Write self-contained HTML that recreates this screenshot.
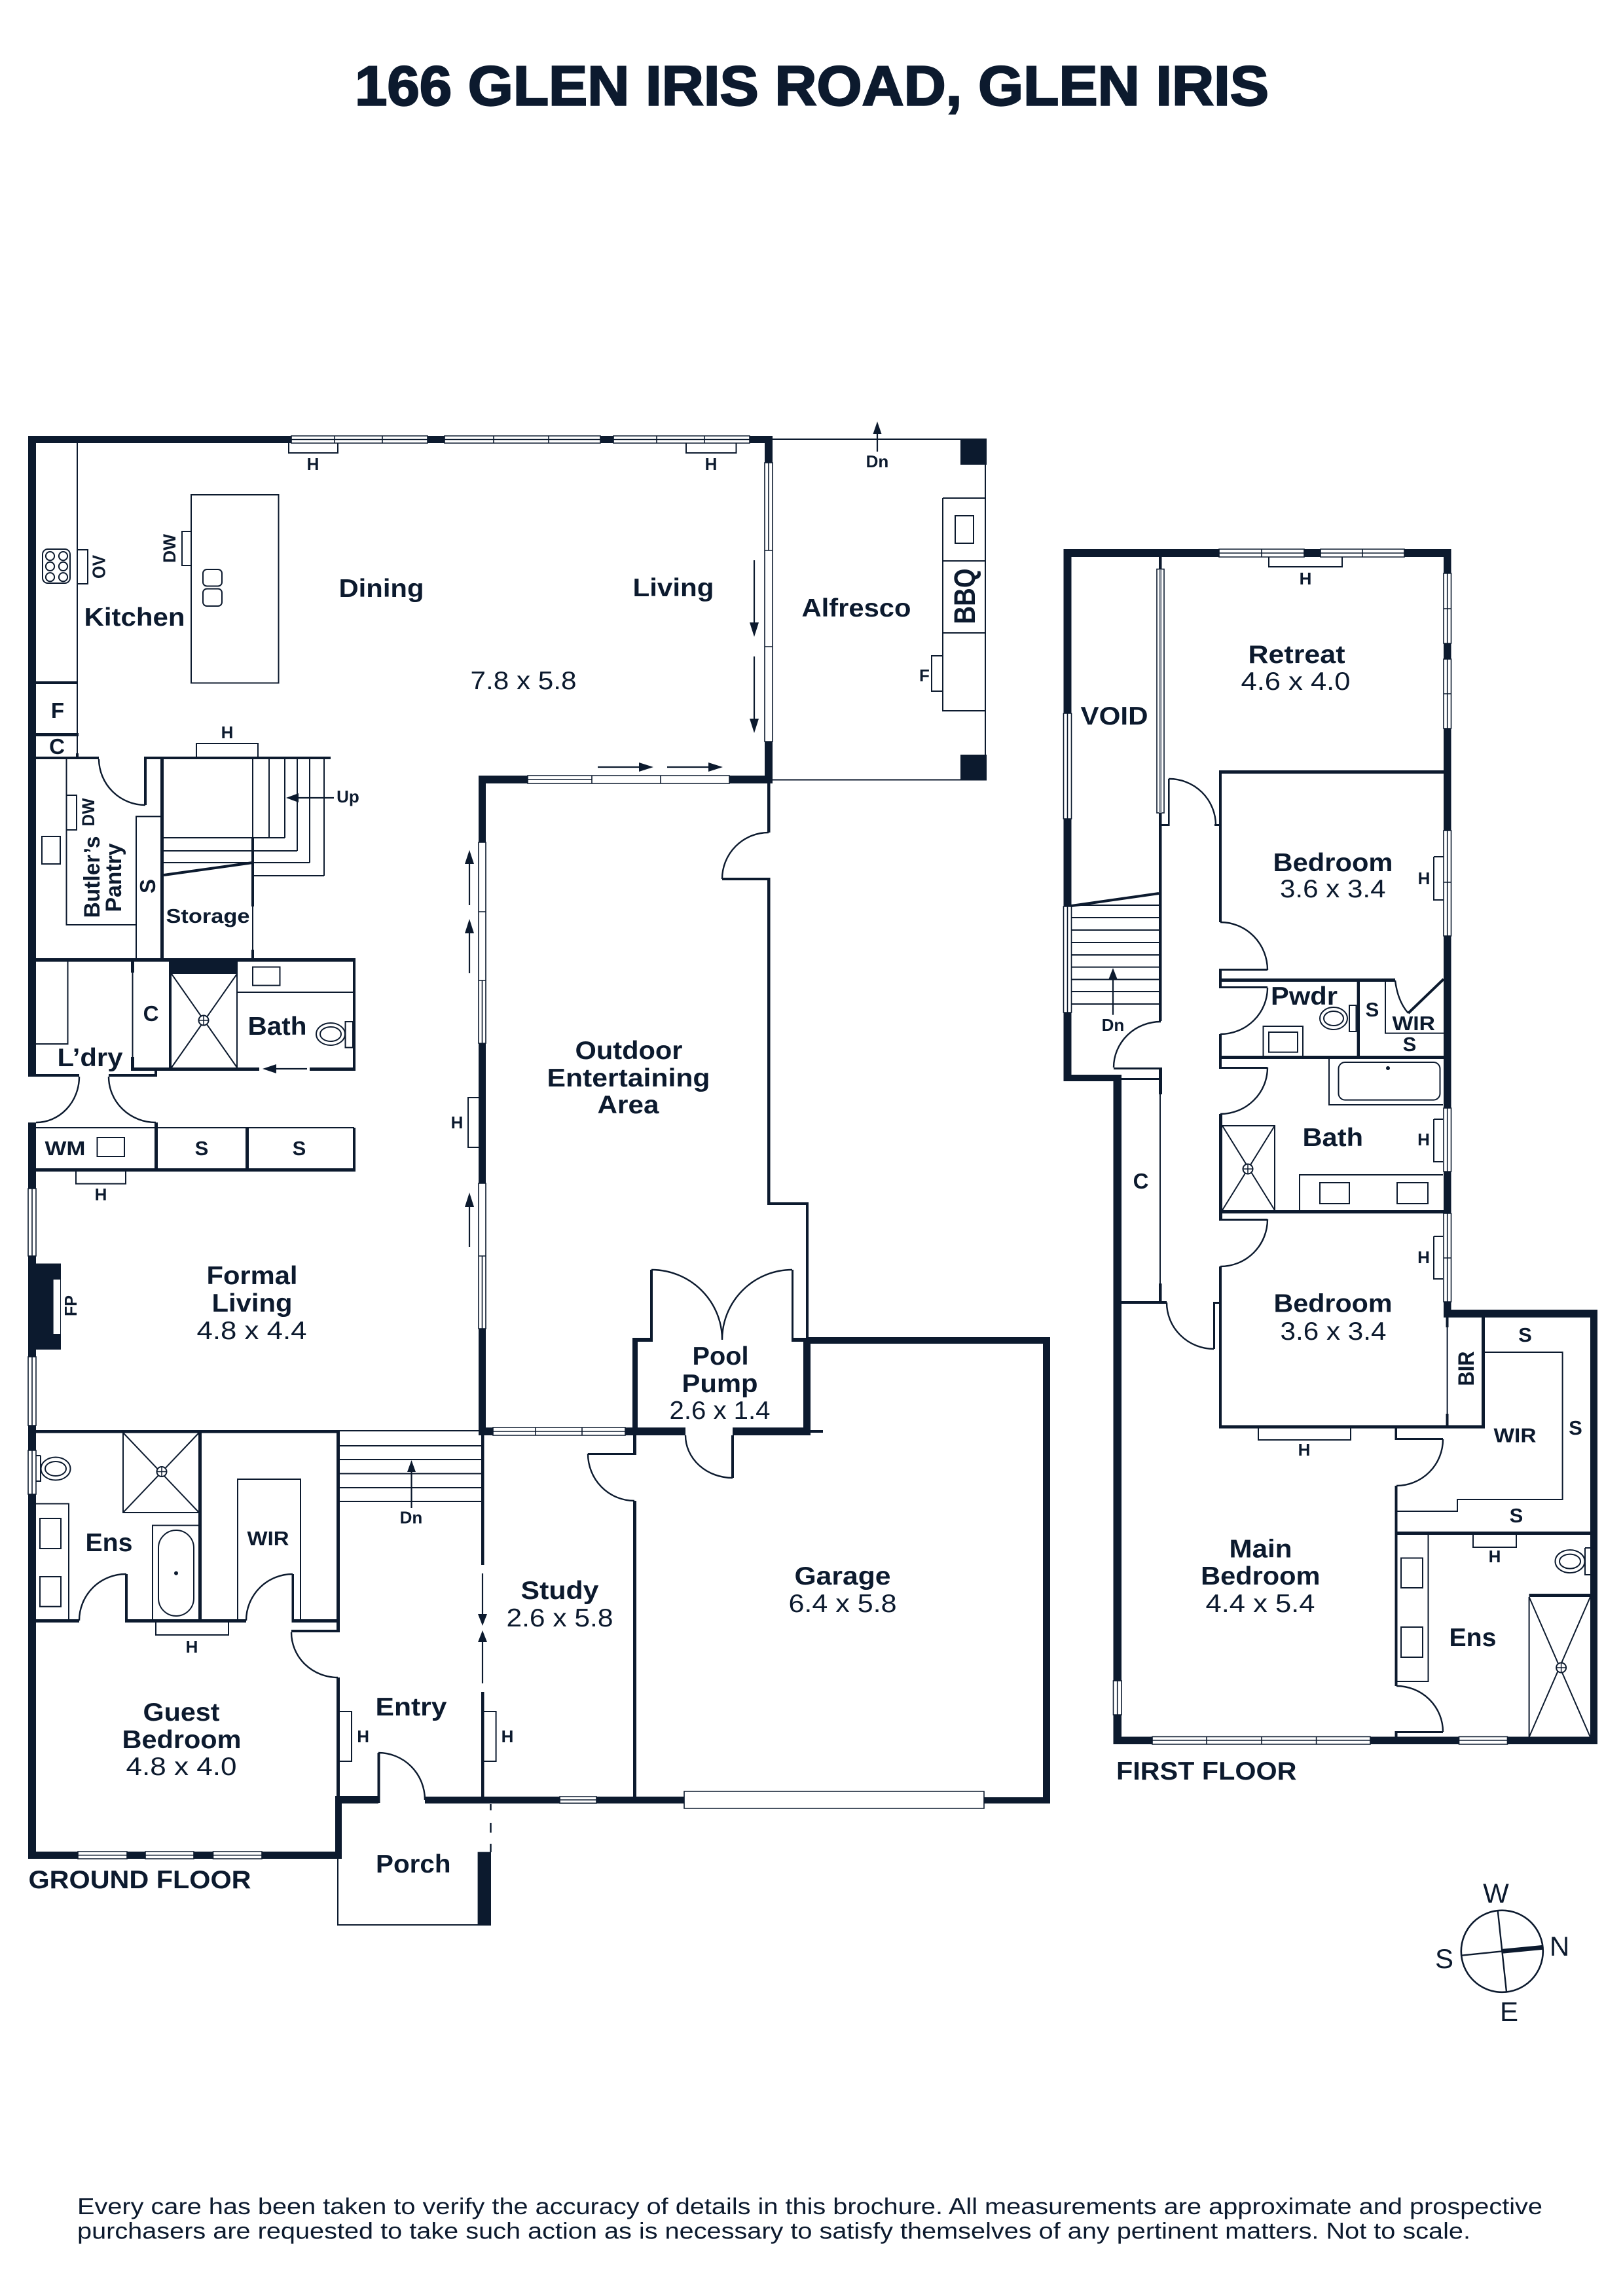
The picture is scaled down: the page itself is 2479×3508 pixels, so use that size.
<!DOCTYPE html>
<html><head><meta charset="utf-8"><title>166 Glen Iris Road, Glen Iris</title>
<style>
html,body{margin:0;padding:0;background:#fff}
svg{display:block}
text{font-family:"Liberation Sans",sans-serif;fill:#0c1a2e}
.b{font-weight:700;font-size:39px}
.r{font-weight:400;font-size:39px}
.m{font-weight:700;font-size:31px}
.s{font-weight:700;font-size:26px;text-anchor:middle}
.c{font-weight:400;font-size:42px;text-anchor:middle}
.t{fill:none;stroke:#0c1a2e;stroke-width:2}
.a{fill:none;stroke:#0c1a2e;stroke-width:2.4}
.w{fill:#fff;stroke:#0c1a2e;stroke-width:1.6}
.f{fill:#0c1a2e}
</style></head><body>
<svg xmlns="http://www.w3.org/2000/svg" width="2479" height="3508" viewBox="0 0 2479 3508">
<rect width="2479" height="3508" fill="#fff"/>

<!-- thin lines: ground floor -->
<path class="t" d="M118 677V1156
M292 756H425.5V1043.5H292ZM292 812H278V864H292
M118 840H134V892H118
M441 677V692H516V677M1048 677V692H1124.5V677M300 1156V1136H394V1156
M65 839m8 0h26a8 8 0 0 1 8 8v36a8 8 0 0 1-8 8h-26a8 8 0 0 1-8-8v-36a8 8 0 0 1 8-8z
M1180 671H1507M1180 1191.5H1507M1505 671V1192
M1440 761H1504M1440 761V1086H1504M1440 857H1504M1440 967H1504M1459 788H1487V830H1459ZM1440 1002H1423V1056H1440
M386 1160V1280M411 1160V1280M435 1160V1280M454 1160V1300M473 1160V1318M495 1160V1338
M250 1280H435M250 1300H454M250 1318H473M386 1338H495
M386 1385V1451M208 1466V1247.5H245M101.5 1160V1413H208M102 1215H117V1268H102M64 1278H92V1320H64Z
M202.5 1469V1631M103.5 1469V1595H55M363 1516H539M386 1477.5H427.5V1505.6H386ZM362 1488V1631M527.5 1561V1600.5H539V1561Z
M55 1723H541M148.5 1738H190V1767H148.5ZM116 1790V1808.6H192V1790M731 1677H715V1753H731
M188 2189V2311H304M62 2224V2263H55M62 2224H55M105 2474V2297.5H55M61 2320H93V2366H61ZM61 2409H93V2454.6H61Z
M233 2474V2330.6H304M363 2474V2260H459V2474M238 2479V2498H349V2479
M519 2186H735M519 2209H735M519 2230H735M519 2251.5H735M519 2273H735M519 2294H735
M519 2615H537V2691H519M739.5 2615H757.6V2691H739.5M516 2840V2941H750"/>
<!-- thin lines: first floor -->
<path class="t" d="M1938 851V866H2050V851M2190 1309H2205M2190 1309V1375H2205
M1636.5 1402H1770M1636.5 1421H1770M1636.5 1440H1770M1636.5 1459H1770M1636.5 1477.6H1770M1636.5 1496.5H1770M1636.5 1515H1770M1636.5 1534H1770M1636.5 1383H1770
M2061 1536H2071.5V1576H2061ZM1929.5 1613V1568H1990V1613M1938 1577H1982V1607.6H1938Z
M2116 1497V1578.6H2205
M2030 1618V1688H2204M2190 1710H2204M2190 1710V1775H2204M1985 1849V1795H2204M2016 1807H2061V1839H2016ZM2134 1807H2181V1839H2134Z
M1867 1720H1947V1849M2190 1889H2204M2190 1889V1954H2204
M1772 1650V1987M2210.6 2012V2180
M2268 2066H2386.6V2291H2226V2309H2133
M1922 2182.5V2200H2063V2182.5
M2181.5 2345V2569H2134M2140 2380.5H2173V2426H2140ZM2140 2486H2173V2532H2140Z
M2250 2345V2364H2316V2345M2421 2365V2406H2429M2421 2365H2429M2335.6 2440V2654"/>
<rect x="2044.5" y="1623" width="155" height="57.6" rx="10" class="t"/>
<rect x="242" y="2338" width="54" height="131" rx="27" class="t"/>
<rect x="310" y="870" width="29" height="25.5" rx="6" class="t"/>
<rect x="310" y="899.6" width="29" height="26.4" rx="6" class="t"/>
<g class="t">
<circle cx="76.5" cy="849.6" r="6.6"/><circle cx="96.5" cy="849.6" r="6.6"/><circle cx="76.5" cy="865.4" r="6.6"/><circle cx="96.5" cy="865.4" r="6.6"/><circle cx="76.5" cy="881.7" r="6.6"/><circle cx="96.5" cy="881.7" r="6.6"/>
<ellipse cx="505" cy="1580" rx="22" ry="17"/><ellipse cx="505" cy="1580" rx="16" ry="11"/>
<ellipse cx="85" cy="2244" rx="22.5" ry="17.5"/><ellipse cx="85" cy="2244" rx="16" ry="11"/>
<ellipse cx="2037" cy="1556" rx="21" ry="17"/><ellipse cx="2037" cy="1556" rx="15" ry="11"/>
<ellipse cx="2398" cy="2385.6" rx="22.5" ry="17.5"/><ellipse cx="2398" cy="2385.6" rx="16" ry="11"/>
<path d="M262 1488L362 1631M362 1488L262 1631M188 2189L304 2311M304 2189L188 2311M1867 1720L1947 1849M1947 1720L1867 1849M2335.6 2440L2429 2654M2429 2440L2335.6 2654"/>
</g>
<g class="t" style="fill:#fff">
<circle cx="311" cy="1559" r="7.5"/><circle cx="247" cy="2248.5" r="7.5"/><circle cx="1906" cy="1786" r="7.5"/><circle cx="2384.6" cy="2548" r="7.5"/>
</g>
<path class="t" style="stroke-width:1.5" d="M303.5 1559h15M311 1551.5v15M239.500 2248.5h15M247 2241v15M1898.500 1786h15M1906 1778.5v15M2377.100 2548h15M2384.6 2540.500v15"/>
<circle cx="269" cy="2403.6" r="3" class="f"/><circle cx="2120" cy="1632" r="3" class="f"/>

<!-- door arcs -->
<path class="a" d="M151 1160A71 71 0 0 0 222 1230
M1174 1272A71 71 0 0 0 1103 1343
M995 1940A108 107 0 0 1 1103 2047M1210 1940A107 107 0 0 0 1103 2047
M1047 2193A72 65 0 0 0 1119 2258
M121 1645A66 70 0 0 1 55 1715M166 1645A72 70 0 0 0 238 1715
M193 2405A71 71 0 0 0 121 2476M447 2405A71 71 0 0 0 376 2476
M445 2494A71 69 0 0 0 516 2563M578 2678A71 72 0 0 1 649 2750
M898 2221A71 72 0 0 0 969 2293
M1785 1190A71 71 0 0 1 1857 1261M1864 1409A72 73 0 0 1 1936 1482M1936 1509A72 71 0 0 1 1864 1580
M1936 1631A72 71 0 0 1 1864 1702M1936 1863A72 72 0 0 1 1864 1935
M1773 1561A72 70 0 0 0 1701 1631M1782 1990A72 71 0 0 0 1854 2061
M2204 2199A71 71 0 0 1 2133 2270M2133 2576A71 70 0 0 1 2204 2646
M2131 1498Q2135 1530 2151 1548"/>
<path d="M2151 1548L2205 1496" stroke="#0c1a2e" stroke-width="4" fill="none"/>
<path d="M250 1337L386 1318M1636.5 1384L1770 1365" stroke="#0c1a2e" stroke-width="4" fill="none"/>
<path d="M749.500 2756V2766M749.500 2785V2800M749.500 2817V2830" stroke="#0c1a2e" stroke-width="2.5" fill="none"/>

<!-- walls -->
<path class="f" d="
M43 666H445V677H43ZM653 666H679V677H653ZM917 666H937V677H917ZM1145 666H1180V677H1145Z
M1168 677H1180V707H1168ZM1168 1133H1180V1197H1168ZM1114 1185H1180V1197H1114ZM731 1185H806V1197H731Z
M731 1185H742V1287H731ZM731 1594H742V1808H731ZM731 2030H742V2193H731Z
M731 2181H753V2193H731ZM955 2181H1047V2193H955ZM1119 2181H1238V2193H1119Z
M43 666H55V1645H43ZM43 1715H55V1816H43ZM43 1919H55V2073H43ZM43 2178H55V2216H43ZM43 2283H55V2840H43Z
M55 1041H118V1045H55ZM55 1120H120V1125H55ZM116 1151H120V1156H116ZM55 1156H151V1160H55ZM220 1156H505V1160H220ZM220 1156H224V1230H220ZM245 1160H250V1466H245Z
M384 1280H388V1385H384ZM384 1451H388V1466H384Z
M55 1464H543V1469.5H55ZM258 1464H363V1488H258ZM539 1464H543V1636H539ZM258 1488H262V1636H258ZM200 1631H396V1636H200ZM473 1631H543V1636H473ZM200 1469H205V1486H200ZM200 1615H205V1636H200Z
M55 1641H121V1645H55ZM166 1641H240V1645H166ZM236 1631H240V1645H236Z
M236 1715H241V1790H236ZM375 1723H380V1790H375ZM539 1723H543V1790H539ZM55 1785H543V1790H55Z
M55 2185H519V2189.5H55ZM514 2185H519V2494H514ZM55 2474H121V2479H55ZM193 2474H376V2479H193ZM446 2474H519V2479H446ZM191 2405H195V2479H191ZM445.5 2405H449V2479H445.5ZM303 2185H308V2479H303ZM445 2490H519V2494H445ZM514 2563H519V2750H514Z
M512 2744H578V2755.5H512ZM649 2745H1045V2755.5H649ZM1503 2746H1604V2755.500H1503ZM576.5 2678H580.5V2755H576.500ZM512 2744H522V2840H512ZM43 2829H522V2840H43Z
M735 2189H739.5V2391H735ZM735 2585H739.5V2750H735ZM967 2193H972V2223H967ZM898 2220H972V2223H898ZM967 2293H972V2750H967Z
M966 2044H974V2192H966ZM966 2044H997V2050H966ZM993 1940H997V2050H993ZM1209 1940H1212V2050H1209ZM1209 2044H1233V2050H1209ZM1227 2044H1238V2193H1227ZM1238 2185H1257V2189H1238ZM1117 2193H1121V2258H1117Z
M1172 1197H1176.5V1272H1172ZM1103 1341H1176.5V1345H1103ZM1172 1341H1176.5V1841H1172ZM1172 1837H1235V1841H1172ZM1231 1837H1235V2050H1231Z
M1233 2043H1604V2053H1233ZM1593 2043H1604V2755H1593Z
M1467 671H1507V710H1467ZM1467 1153H1507V1192H1467Z
M43 1930.5H93V2062H43Z M729.6 2829.600H750V2941H729.600Z
M1624.5 839H1862V851H1624.5ZM1992 839H2017V851H1992ZM2145 839H2216.5V851H2145Z
M1624.5 839H1636.5V1090H1624.5ZM1624.5 1251H1636.5V1385H1624.5ZM1624.5 1547H1636.5V1652H1624.5ZM1624.5 1642H1712V1652H1624.5Z
M2205 839H2216.5V876H2205ZM2205 983H2216.5V1007H2205ZM2205 1113H2216.5V1269H2205ZM2205 1430H2216.5V1693H2205ZM2205 1790H2216.5V1854H2205ZM2205 1989H2216.5V2013H2205Z
M1700.5 1642H1713V2568H1700.5ZM1700.5 2620H1713V2665H1700.5ZM1700.5 2653.5H1760V2665H1700.5ZM2093 2653.5H2228.5V2665H2093ZM2302.5 2653.5H2440V2665H2302.5Z
M2205.5 2001H2440V2013H2205.5ZM2429 2001H2440V2665H2429Z
M1770 851H1774.5V870H1770ZM1770 1242H1774.5V1560H1770ZM1770 1259H1786.6V1262H1770ZM1784 1190H1786.6V1262H1784Z
M1770 1631H1775V1672H1770ZM1701 1631H1775V1634H1701ZM1712 1647H1775V1650H1712ZM1770 1961H1774.5V1989H1770ZM1712 1988H1782V1992H1712Z
M1855 1259H1866V1262H1855ZM1862 1177H2205V1182H1862ZM1862 1177H1866V1409H1862ZM1862 1480H1936V1483H1862ZM1862 1480H1866V1510H1862ZM1862 1495H2131V1500H1862ZM1862 1507H1936V1510H1862Z
M1862 1580H1866V1633H1862ZM1862 1613H2205V1618H1862ZM1862 1630H1936V1633H1862ZM1862 1702H1867V1865H1862ZM1862 1849H2205V1854H1862ZM1862 1862H1936V1865H1862ZM1862 1935H1866V2182H1862ZM1853 1989H1866V1992H1853ZM1853 1989H1856V2061H1853Z
M1862 2177.5H2268V2182.5H1862ZM2263 2013H2268V2182.5H2263ZM2208.5 2013H2212.5V2028H2208.5ZM2208.5 2160H2212.5V2178H2208.5ZM2072.6 1497H2077V1615H2072.6Z
M2130.5 2182H2134V2200H2130.5ZM2131 2197H2204V2200H2131ZM2130.5 2270H2134.5V2576H2130.5ZM2131 2340H2429V2345H2131ZM2131 2645H2204V2648H2131ZM2130.5 2645H2134.5V2654H2130.5ZM2335.6 2435H2429V2440H2335.6Z"/>
<rect x="81.6" y="1955" width="10.4" height="83" fill="#fff"/>

<!-- windows -->
<path class="w" d="
M445 666H653V677H445ZM445 671.5H653M511 666V677M584 666V677
M679 666H917V677H679ZM679 671.5H917M754 666V677M838 666V677
M937 666H1145V677H937ZM937 671.5H1145M1003 666V677M1076 666V677
M1168 707H1180V841H1168ZM1174 707V841M1168 841H1180V988H1168ZM1168 988H1180V1133H1168Z
M806 1185H904V1197H806ZM806 1191H904M904 1185H1009V1197H904ZM1009 1185H1114V1197H1009Z
M731 1287H742V1393H731ZM731 1393H742V1498H731ZM731 1498H742V1594H731ZM736.5 1498V1594M731 1808H742V1919H731ZM731 1919H742V2030H731ZM736.5 1919V2030
M753 2181H955V2193H753ZM753 2187H955M818 2181V2193M889 2181V2193
M43 1816H55V1919H43ZM49 1816V1919M43 2073H55V2178H43ZM49 2073V2178M43 2216H55V2283H43ZM49 2216V2283
M119 2829H194V2840H119ZM119 2834.500H194M222 2829H296V2840H222ZM222 2834.500H296M325.5 2829H400V2840H325.5ZM325.5 2834.500H400
M855 2745H911V2755H855ZM855 2750H911
M1045 2737H1503V2763H1045Z
M1862 839H1992V851H1862ZM1862 845H1992M1927 839V851M2017 839H2145V851H2017ZM2017 845H2145M2081 839V851
M1624.5 1090H1636.5V1251H1624.5ZM1630.500 1090V1251M1624.5 1385H1636.5V1547H1624.5ZM1630.500 1385V1547
M2205 876H2216.5V983H2205ZM2210.700 876V983M2205 930H2216.5M2205 1007H2216.5V1113H2205ZM2210.700 1007V1113M2205 1060H2216.5
M2205 1269H2216.5V1430H2205ZM2210.700 1269V1430M2205 1348H2216.5M2205 1693H2216.5V1790H2205ZM2210.700 1693V1790M2205 1854H2216.5V1989H2205ZM2210.700 1854V1989M2205 1922H2216.5
M1700.5 2568H1713V2620H1700.5ZM1706.700 2568V2620
M1760 2653.5H2093V2665H1760ZM1760 2659H2093M1843 2653.5V2665M1927 2653.5V2665M2010.6 2653.5V2665M2228.5 2653.5H2302.5V2665H2228.5ZM2228.5 2659H2302.5"/>
<rect x="1767" y="869.5" width="11" height="372.5" class="w"/>
<rect x="1770" y="870" width="4.5" height="372" fill="#8f96a0"/>

<!-- arrows -->
<path d="M1152 856V955M1152 1003V1102M913 1172H980M1019 1172H1086M717 1316V1383M717 1422V1487M717 1840V1905M1340 660V690M510 1219H452M469 1633H418M628.5 2246V2304M737 2404V2467M737 2508V2572M1700 1494V1550.6" stroke="#0c1a2e" stroke-width="2.2" fill="none"/>
<path class="f" d="M1145 951H1159L1152 973ZM1145 1098H1159L1152 1120ZM976 1165V1179L998 1172ZM1082 1165V1179L1104 1172Z
M710 1320H724L717 1298.6ZM710 1426H724L717 1404ZM710 1844H724L717 1822ZM1333.5 663H1346.5L1340 644Z
M456 1212V1226L437 1219ZM422 1626V1640L401 1633ZM622 2249H635L628.5 2231ZM730 2466H744L737 2484ZM730 2509H744L737 2491ZM1693 1497H1707L1700 1479Z"/>

<!-- compass -->
<circle cx="2294.3" cy="2981.300" r="62.5" class="t" style="stroke-width:2.6"/>
<path d="M2287.7 2919L2301 3043M2232.3 2987.700L2294.3 2981.300" stroke="#0c1a2e" stroke-width="2.4" fill="none"/>
<path d="M2294.3 2981.300L2356.700 2975.300" stroke="#0c1a2e" stroke-width="7" fill="none"/>
<text class="c" x="2285" y="2907">W</text><text class="c" x="2206" y="3007">S</text><text class="c" x="2382" y="2988">N</text><text class="c" x="2305" y="3088">E</text>

<!-- title & footer -->
<text x="542" y="160.7" font-size="85" font-weight="700" stroke="#0c1a2e" stroke-width="2.4" textLength="1396" lengthAdjust="spacingAndGlyphs">166 GLEN IRIS ROAD, GLEN IRIS</text>
<text x="118" y="3383" font-size="35" textLength="2238" lengthAdjust="spacingAndGlyphs">Every care has been taken to verify the accuracy of details in this brochure. All measurements are approximate and prospective</text>
<text x="118" y="3420.7" font-size="35" textLength="2128" lengthAdjust="spacingAndGlyphs">purchasers are requested to take such action as is necessary to satisfy themselves of any pertinent matters. Not to scale.</text>

<!-- room labels -->
<g transform="translate(-1.5 -1)">
<text class="b" x="130" y="957" textLength="154" lengthAdjust="spacingAndGlyphs">Kitchen</text>
<text class="b" x="519" y="913" textLength="130" lengthAdjust="spacingAndGlyphs">Dining</text>
<text class="b" x="968" y="912" textLength="124" lengthAdjust="spacingAndGlyphs">Living</text>
<text class="r" x="720" y="1054" textLength="162" lengthAdjust="spacingAndGlyphs">7.8 x 5.8</text>
<text class="b" x="1226" y="943" textLength="167" lengthAdjust="spacingAndGlyphs">Alfresco</text>
<text class="b" x="380" y="1582" textLength="90" lengthAdjust="spacingAndGlyphs">Bath</text>
<text class="b" x="89" y="1630" textLength="100" lengthAdjust="spacingAndGlyphs">L’dry</text>
<text class="m" x="255" y="1411" textLength="128" lengthAdjust="spacingAndGlyphs">Storage</text>
<text class="b" x="317" y="1963" textLength="139" lengthAdjust="spacingAndGlyphs">Formal</text>
<text class="b" x="325" y="2005" textLength="123" lengthAdjust="spacingAndGlyphs">Living</text>
<text class="r" x="302" y="2047" textLength="168" lengthAdjust="spacingAndGlyphs">4.8 x 4.4</text>
<text class="b" x="880" y="1619" textLength="164" lengthAdjust="spacingAndGlyphs">Outdoor</text>
<text class="b" x="837" y="1661" textLength="249" lengthAdjust="spacingAndGlyphs">Entertaining</text>
<text class="b" x="914" y="1702" textLength="94" lengthAdjust="spacingAndGlyphs">Area</text>
<text class="b" x="1059" y="2086" textLength="86" lengthAdjust="spacingAndGlyphs">Pool</text>
<text class="b" x="1043" y="2128" textLength="116" lengthAdjust="spacingAndGlyphs">Pump</text>
<text class="r" x="1024" y="2169" textLength="154" lengthAdjust="spacingAndGlyphs">2.6 x 1.4</text>
<text class="b" x="132" y="2371" textLength="72" lengthAdjust="spacingAndGlyphs">Ens</text>
<text class="m" x="379" y="2362" textLength="64" lengthAdjust="spacingAndGlyphs">WIR</text>
<text class="b" x="220" y="2630" textLength="117" lengthAdjust="spacingAndGlyphs">Guest</text>
<text class="b" x="188" y="2672" textLength="182" lengthAdjust="spacingAndGlyphs">Bedroom</text>
<text class="r" x="194" y="2713" textLength="169" lengthAdjust="spacingAndGlyphs">4.8 x 4.0</text>
<text class="b" x="575" y="2622" textLength="109" lengthAdjust="spacingAndGlyphs">Entry</text>
<text class="b" x="575.5" y="2862" textLength="114.5" lengthAdjust="spacingAndGlyphs">Porch</text>
<text class="b" x="797" y="2444" textLength="119" lengthAdjust="spacingAndGlyphs">Study</text>
<text class="r" x="775" y="2486" textLength="163" lengthAdjust="spacingAndGlyphs">2.6 x 5.8</text>
<text class="b" x="1215" y="2422" textLength="147" lengthAdjust="spacingAndGlyphs">Garage</text>
<text class="r" x="1206" y="2464" textLength="165" lengthAdjust="spacingAndGlyphs">6.4 x 5.8</text>
<text class="b" x="45" y="2886" textLength="340" lengthAdjust="spacingAndGlyphs">GROUND FLOOR</text>
<text class="b" x="1706.5" y="2720" textLength="275.5" lengthAdjust="spacingAndGlyphs">FIRST FLOOR</text>
<text class="b" x="1908" y="1014" textLength="148" lengthAdjust="spacingAndGlyphs">Retreat</text>
<text class="r" x="1897" y="1055" textLength="167" lengthAdjust="spacingAndGlyphs">4.6 x 4.0</text>
<text class="b" x="1652" y="1108" textLength="103" lengthAdjust="spacingAndGlyphs">VOID</text>
<text class="b" x="1946" y="1332" textLength="183" lengthAdjust="spacingAndGlyphs">Bedroom</text>
<text class="r" x="1956.5" y="1372" textLength="161.5" lengthAdjust="spacingAndGlyphs">3.6 x 3.4</text>
<text class="b" x="1942.5" y="1536" font-size="37" textLength="102" lengthAdjust="spacingAndGlyphs">Pwdr</text>
<text class="b" x="1991" y="1752" textLength="92.5" lengthAdjust="spacingAndGlyphs">Bath</text>
<text class="b" x="1947" y="2005.6" textLength="181" lengthAdjust="spacingAndGlyphs">Bedroom</text>
<text class="r" x="1957" y="2048" textLength="162" lengthAdjust="spacingAndGlyphs">3.6 x 3.4</text>
<text class="b" x="1879" y="2380.5" textLength="96" lengthAdjust="spacingAndGlyphs">Main</text>
<text class="b" x="1835.6" y="2422" textLength="182.4" lengthAdjust="spacingAndGlyphs">Bedroom</text>
<text class="r" x="1843" y="2464" textLength="167" lengthAdjust="spacingAndGlyphs">4.4 x 5.4</text>
<text class="b" x="2215" y="2516" textLength="72" lengthAdjust="spacingAndGlyphs">Ens</text>
<text class="m" x="2283" y="2204.5" textLength="65" lengthAdjust="spacingAndGlyphs">WIR</text>
<text class="m" x="2128" y="1575" textLength="65.5" lengthAdjust="spacingAndGlyphs">WIR</text>
<text class="m" x="70" y="1766" textLength="62" lengthAdjust="spacingAndGlyphs">WM</text>
</g>

<!-- single letters -->
<text class="m" style="text-anchor:middle;font-size:33px" x="88" y="1097">F</text>
<text class="m" style="text-anchor:middle;font-size:33px" x="87" y="1152">C</text>
<text class="m" style="text-anchor:middle;font-size:33px" x="230.6" y="1560">C</text>
<text class="m" style="text-anchor:middle;font-size:33px" x="1742.5" y="1816">C</text>
<text class="m" style="text-anchor:middle" x="308" y="1765">S</text>
<text class="m" style="text-anchor:middle" x="457" y="1765">S</text>
<text class="m" style="text-anchor:middle" x="2096" y="1553">S</text>
<text class="m" style="text-anchor:middle" x="2153" y="1606">S</text>
<text class="m" style="text-anchor:middle" x="2329.5" y="2050">S</text>
<text class="m" style="text-anchor:middle" x="2406.5" y="2192">S</text>
<text class="m" style="text-anchor:middle" x="2316" y="2326">S</text>
<text class="s" x="478" y="718">H</text><text class="s" x="1086" y="718">H</text>
<text class="s" x="347" y="1128">H</text><text class="s" x="154" y="1834">H</text>
<text class="s" x="698" y="1724">H</text><text class="s" x="293" y="2525">H</text>
<text class="s" x="554.6" y="2662">H</text><text class="s" x="775" y="2662">H</text>
<text class="s" x="1994" y="893">H</text><text class="s" x="2175" y="1351">H</text>
<text class="s" x="2174.5" y="1750">H</text><text class="s" x="2174.5" y="1930">H</text>
<text class="s" x="1992" y="2224">H</text><text class="s" x="2283" y="2387">H</text>
<text class="s" x="1412" y="1041">F</text>
<text class="s" x="1340" y="714">Dn</text><text class="s" x="628" y="2327.5">Dn</text><text class="s" x="1700" y="1575">Dn</text>
<text class="s" x="531.5" y="1226">Up</text>

<!-- rotated labels -->
<text transform="translate(160.7 866) rotate(-90)" font-size="28" font-weight="700" text-anchor="middle" textLength="36" lengthAdjust="spacingAndGlyphs">OV</text>
<text transform="translate(268 838) rotate(-90)" font-size="27" font-weight="700" text-anchor="middle" textLength="44" lengthAdjust="spacingAndGlyphs">DW</text>
<text transform="translate(144 1241) rotate(-90)" font-size="27" font-weight="700" text-anchor="middle" textLength="43" lengthAdjust="spacingAndGlyphs">DW</text>
<text transform="translate(237 1354) rotate(-90)" font-size="33" font-weight="700" text-anchor="middle">S</text>
<text transform="translate(152 1340) rotate(-90)" font-size="34" font-weight="700" text-anchor="middle" textLength="125" lengthAdjust="spacingAndGlyphs">Butler’s</text>
<text transform="translate(185 1341) rotate(-90)" font-size="34" font-weight="700" text-anchor="middle" textLength="105" lengthAdjust="spacingAndGlyphs">Pantry</text>
<text transform="translate(117 1995) rotate(-90)" font-size="26" font-weight="700" text-anchor="middle" textLength="32" lengthAdjust="spacingAndGlyphs">FP</text>
<text transform="translate(1489 911) rotate(-90)" font-size="45" font-weight="700" text-anchor="middle" textLength="85" lengthAdjust="spacingAndGlyphs">BBQ</text>
<text transform="translate(2251 2091) rotate(-90)" font-size="34" font-weight="700" text-anchor="middle" textLength="53" lengthAdjust="spacingAndGlyphs">BIR</text>
</svg>
</body></html>
